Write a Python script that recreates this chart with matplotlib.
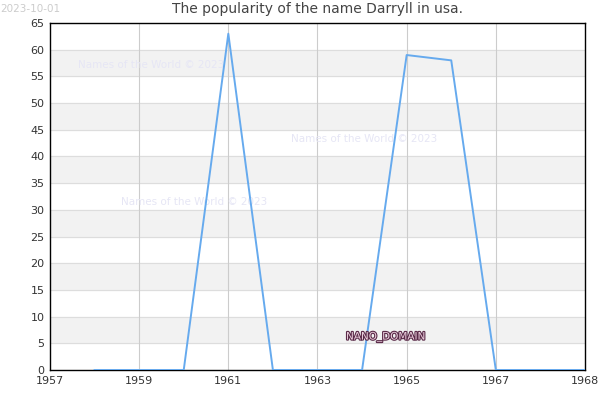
import matplotlib.pyplot as plt
import matplotlib.patheffects as pe

years = [1958, 1959, 1960, 1961, 1962, 1963, 1964, 1965, 1966, 1967, 1968, 1969]
counts = [0, 0, 0, 63, 0, 0, 0, 59, 58, 0, 0, 0]
tick_labels = ['1957', '1959', '1961', '1963', '1965', '1967', '1968']
yticks = list(range(0, 70, 5))

fig = plt.figure(figsize=(6, 4), dpi=100)
ax = fig.add_axes([0.0833, 0.075, 0.8917, 0.8675])

# alternating bands
for lo in range(5, 65, 10):
    ax.axhspan(lo, lo + 5, color='#f2f2f2', zorder=0)
for y in yticks:
    ax.axhline(y, color='#dddddd', lw=0.8, zorder=1)
for x in [1959, 1961, 1963, 1965, 1967]:
    ax.axvline(x, color='#cccccc', lw=0.8, zorder=1)

ax.plot(years, counts, color='#66aaee', lw=1.4, zorder=3)

ax.set_xlim(1957, 1969)
ax.set_ylim(0, 65)
ax.set_xticks(range(1957, 1970, 2))
ax.set_xticklabels(tick_labels)
ax.set_yticks(yticks)
ax.tick_params(length=0, labelsize=8, colors='#333333', pad=4)
for s in ax.spines.values():
    s.set_color('black')
    s.set_linewidth(1)

ax.set_title('The popularity of the name Darryll in usa.', fontsize=10, color='#444444', pad=7)

wm = dict(fontsize=7.5, color='#e6e6f5', zorder=2)
ax.text(1957.63, 56.5, 'Names of the World © 2023', **wm)
ax.text(1962.4, 42.8, 'Names of the World © 2023', **wm)
ax.text(1958.6, 30.9, 'Names of the World © 2023', **wm)

t = ax.text(1963.64, 5.7, 'NANO_DOMAIN', fontsize=7.5, color='#ecd0de', zorder=4)
t.set_path_effects([pe.withStroke(linewidth=1.6, foreground='#5a2a48')])

fig.text(0.0, 0.99, '2023-10-01', fontsize=7.5, color='#cccccc', va='top', ha='left')

fig.savefig('out.png', dpi=100)
